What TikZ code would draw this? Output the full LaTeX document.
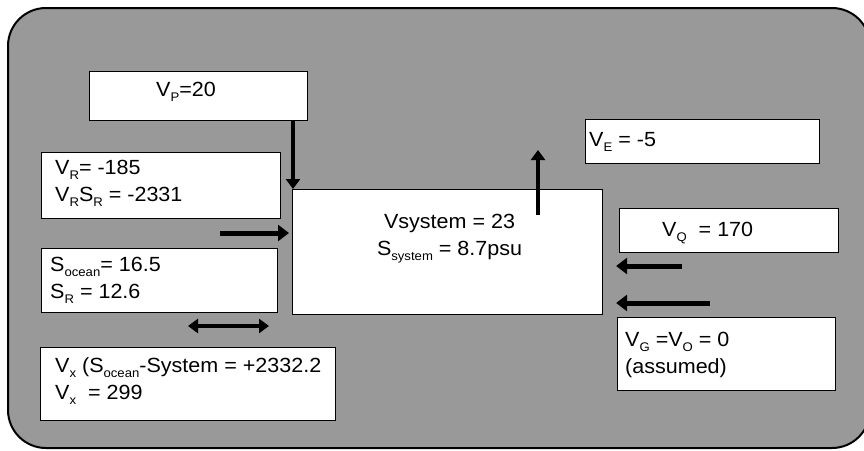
\documentclass[tikz,border=0pt]{standalone}
\usepackage{fontspec}
\setmainfont[FakeStretch=1.05]{Liberation Sans}
\usepackage{tikz}
\usetikzlibrary{positioning,arrows.meta}
\definecolor{oceangray}{gray}{0.6}
\newcommand{\lsub}[1]{\raisebox{-5pt}{\fontsize{12.5}{12.5}\selectfont #1}}
\tikzset{
    panel/.style={draw=black, line width=2pt, fill=oceangray, rounded corners=38pt},
    valbox/.style={rectangle, draw=black, line width=1.1pt, fill=white, inner sep=0pt, anchor=north west},
    valtext/.style={inner sep=0pt, align=left, font=\fontsize{20.5}{27}\selectfont},
    flux/.style={line width=5pt, -{Triangle[length=11pt,width=16pt]}},
    thinflux/.style={line width=3.5pt, -{Triangle[length=10pt,width=14pt]}}
}

\begin{document}
\begin{tikzpicture}[x=1pt, y=-1pt]
    \clip (0,0) rectangle (864,450);
    \path[panel] (8,8) rectangle (870,448);

    % boxes
    \node[valbox, minimum width=218pt, minimum height=49pt] (vp) at (89,71) {};
    \node[valbox, minimum width=239pt, minimum height=66pt] (vr) at (41,152) {};
    \node[valbox, minimum width=310pt, minimum height=125pt] (sys) at (292,189) {};
    \node[valbox, minimum width=234pt, minimum height=44pt] (ve) at (585,119) {};
    \node[valbox, minimum width=219pt, minimum height=44pt] (vq) at (619,208) {};
    \node[valbox, minimum width=236pt, minimum height=64pt] (so) at (41,248) {};
    \node[valbox, minimum width=295pt, minimum height=73pt] (vx) at (40,347) {};
    \node[valbox, minimum width=218pt, minimum height=73pt] (vg) at (617,317) {};

    % texts
    \node[valtext, below right=11pt and 67pt of vp.north west] (vptext) {V\lsub{P}=20};
    \node[valtext, below right=8pt and 14pt of vr.north west] (vrtext) {V\lsub{R}= -185\\V\lsub{R}S\lsub{R} = -2331};
    \node[valtext, align=center, below=25pt of sys.north, xshift=2pt] (systext) {Vsystem = 23\\S\lsub{system} = 8.7psu};
    \node[valtext, below right=13pt and 4pt of ve.north west] (vetext) {V\lsub{E} = -5};
    \node[valtext, below right=14pt and 43pt of vq.north west] (vqtext) {V\lsub{Q}\ \ = 170};
    \node[valtext, below right=9pt and 9pt of so.north west] (sotext) {S\lsub{ocean}= 16.5\\S\lsub{R} = 12.6};
    \node[valtext, below right=10pt and 15pt of vx.north west] (vxtext) {V\lsub{x} (S\lsub{ocean}-System = +2332.2\\V\lsub{x}\ \ = 299};
    \node[valtext, below right=15pt and 8pt of vg.north west] (vgtext) {V\lsub{G} =V\lsub{O} = 0\\(assumed)};

    % flows
    \coordinate (rin) at (220,233);
    \coordinate (etop) at (538,150);
    \coordinate (xl) at (188,326);
    \coordinate (xr) at (269,326);
    \coordinate (qin) at (682,266);
    \coordinate (gin) at (710,303);
    \draw[thinflux] ([xshift=1pt]vp.south -| sys.west) -- ([xshift=1pt]sys.north west);
    \draw[flux] (rin) -- ([xshift=-3pt]rin -| sys.west);
    \draw[thinflux] ([yshift=-26pt]sys.north -| etop) -- (etop);
    \draw[thinflux, {Triangle[length=10pt,width=14pt]}-{Triangle[length=10pt,width=14pt]}] (xl) -- (xr);
    \draw[flux] (qin) -- ([xshift=13pt]qin -| sys.east);
    \draw[flux] (gin) -- ([xshift=13pt]gin -| sys.east);
\end{tikzpicture}
\end{document}
